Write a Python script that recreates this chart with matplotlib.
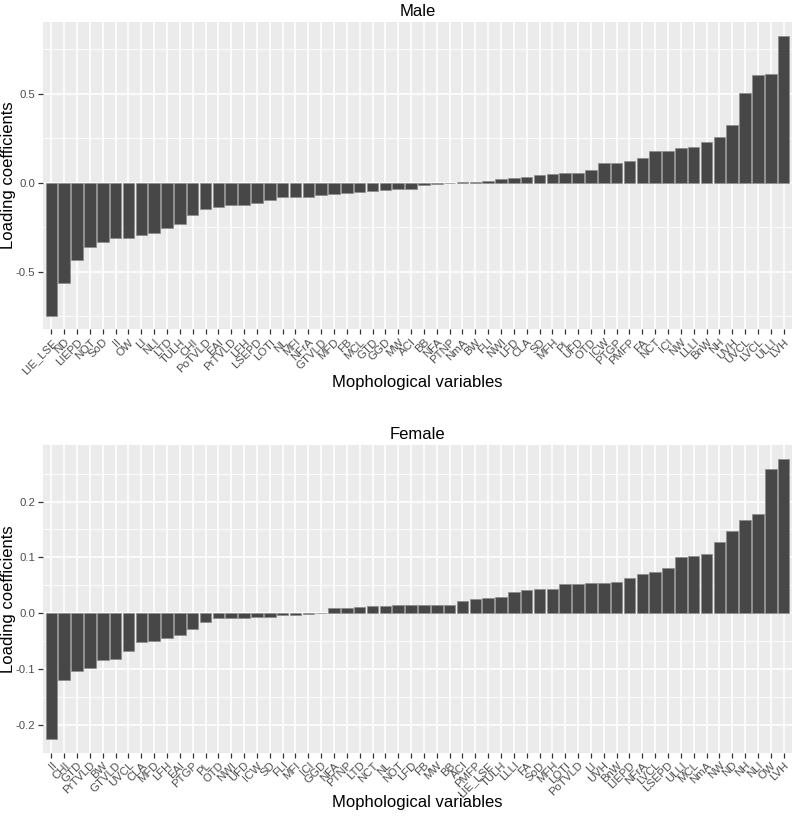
import matplotlib
matplotlib.use('Agg')
import matplotlib.pyplot as plt
import numpy as np

plt.rcParams['font.family'] = ['Liberation Sans', 'DejaVu Sans']

# Male loadings (sorted ascending)
male_vars = ['LIE_LSE', 'ND', 'LIEPD', 'NOT', 'SoD', 'II', 'OW', 'LI', 'NLI', 'LTD',
             'TULH', 'CHI', 'PoTVLD', 'EAI', 'PrTVLD', 'LFH', 'LSEPD', 'LOTI', 'NL', 'MFI',
             'NFrA', 'GTVLD', 'MFD', 'FB', 'MCL', 'GTD', 'GGD', 'MW', 'ACI', 'BB',
             'NFA', 'PTNP', 'NmA', 'BW', 'FLI', 'NWI', 'LFD', 'CLA', 'SD', 'MFH',
             'PL', 'UFD', 'OTD', 'ICW', 'PTGP', 'PMFP', 'FA', 'NCT', 'ICI', 'NW',
             'LLLI', 'BnW', 'NH', 'UVH', 'UVCL', 'LVCL', 'ULLI', 'LVH']
male_vals = [-0.747, -0.567, -0.433, -0.360, -0.333, -0.313, -0.309, -0.294, -0.285, -0.257,
             -0.234, -0.182, -0.148, -0.135, -0.127, -0.124, -0.112, -0.097, -0.082, -0.081,
             -0.080, -0.067, -0.062, -0.056, -0.054, -0.049, -0.041, -0.036, -0.033, -0.013,
             -0.009, -0.004, 0.002, 0.006, 0.011, 0.021, 0.024, 0.030, 0.045, 0.047,
             0.054, 0.056, 0.071, 0.110, 0.110, 0.120, 0.137, 0.176, 0.176, 0.193,
             0.198, 0.227, 0.258, 0.322, 0.502, 0.605, 0.610, 0.826]

# Female loadings (sorted ascending)
female_vars = ['II', 'CHI', 'GTD', 'PrTVLD', 'BW', 'GTVLD', 'UVCL', 'CLA', 'MFD', 'LFH',
               'EAI', 'PTGP', 'PL', 'OTD', 'NWI', 'UFD', 'ICW', 'SD', 'FLI', 'MFI',
               'ICI', 'GGD', 'NFA', 'PTNP', 'LTD', 'NCT', 'NL', 'NOT', 'LFD', 'FB',
               'MW', 'BB', 'ACI', 'PMFP', 'LIE_LSE', 'TULH', 'LLLI', 'FA', 'SoD', 'MFH',
               'LOTI', 'PoTVLD', 'LI', 'UVH', 'BnW', 'LIEPD', 'NFrA', 'LVCL', 'LSEPD', 'ULLI',
               'MCL', 'NmA', 'NW', 'ND', 'NH', 'NLI', 'OW', 'LVH']
female_vals = [-0.224, -0.119, -0.103, -0.098, -0.083, -0.082, -0.068, -0.052, -0.050, -0.044,
               -0.039, -0.027, -0.016, -0.009, -0.009, -0.008, -0.007, -0.0065, -0.0035, -0.003,
               -0.001, 0.0005, 0.009, 0.010, 0.012, 0.0125, 0.0137, 0.015, 0.0155, 0.0155,
               0.0155, 0.0155, 0.022, 0.025, 0.028, 0.030, 0.039, 0.042, 0.044, 0.044,
               0.052, 0.053, 0.054, 0.055, 0.0565, 0.064, 0.071, 0.074, 0.082, 0.100,
               0.103, 0.1065, 0.127, 0.148, 0.167, 0.178, 0.258, 0.276]

male_ticks = [-0.5, 0.0, 0.5]
male_minor = [-0.75, -0.25, 0.25, 0.75]
female_ticks = [-0.2, -0.1, 0.0, 0.1, 0.2]
female_minor = [-0.25, -0.15, -0.05, 0.05, 0.15, 0.25]


def gg_bar(ax, names, vals, title, ticks, minor):
    x = np.arange(len(names))
    ax.set_facecolor('#EBEBEB')
    for s in ax.spines.values():
        s.set_visible(False)
    # grid lines, ggplot style
    for m in minor:
        ax.axhline(m, color='white', lw=0.6, zorder=0)
    for t in ticks:
        ax.axhline(t, color='white', lw=1.2, zorder=0)
    for xi in x:
        ax.axvline(xi, color='white', lw=1.2, zorder=0)
    ax.bar(x, vals, width=0.9, color='#474747', edgecolor='#8c8c8c', lw=0.5, zorder=2)
    lo, hi = min(vals), max(vals)
    pad = (hi - lo) * 0.05
    ax.set_ylim(lo - pad, hi + pad)
    ax.set_xlim(-0.65, len(names) - 0.35)
    ax.set_yticks(ticks)
    ax.set_yticklabels(['%.1f' % t for t in ticks])
    ax.set_xticks(x)
    ax.set_xticklabels(names, rotation=45, ha='right', rotation_mode='anchor')
    ax.tick_params(axis='both', length=3.5, width=0.9, color='#333333',
                   labelcolor='#4D4D4D', labelsize=8.2, pad=2)
    ax.set_title(title, fontsize=12, pad=4)


fig = plt.figure(figsize=(7.95, 8.17), dpi=100)

ax1 = fig.add_axes([0.0541, 0.5967, 0.9421, 0.3767])
gg_bar(ax1, male_vars, male_vals, 'Male', male_ticks, male_minor)

ax2 = fig.add_axes([0.0541, 0.0787, 0.9421, 0.3766])
gg_bar(ax2, female_vars, female_vals, 'Female', female_ticks, female_minor)

# axis titles placed where the reference has them
fig.text(9 / 795, 1 - 175 / 817, 'Loading coefficients', rotation=90,
         ha='center', va='center', fontsize=12)
fig.text(9 / 795, 1 - 599 / 817, 'Loading coefficients', rotation=90,
         ha='center', va='center', fontsize=12)
fig.text(417 / 795, 1 - 382 / 817, 'Mophological variables',
         ha='center', va='center', fontsize=12)
fig.text(417 / 795, 1 - 803 / 817, 'Mophological variables',
         ha='center', va='center', fontsize=12)

plt.savefig('out.png', dpi=100)
